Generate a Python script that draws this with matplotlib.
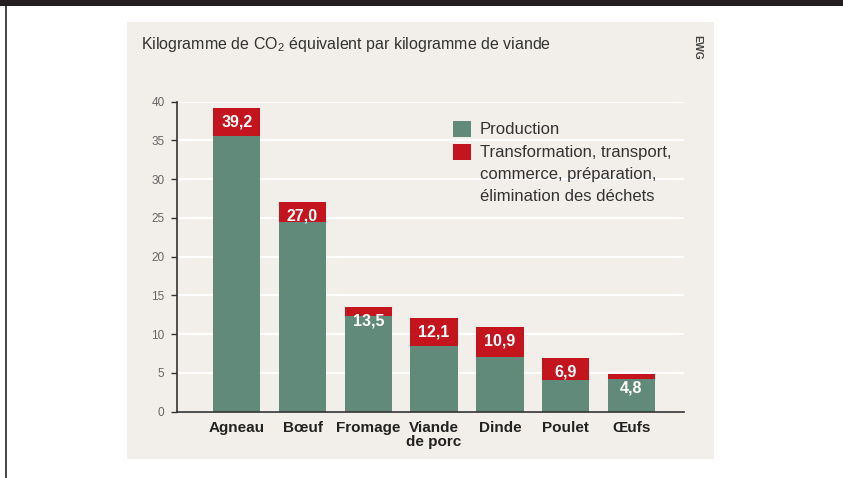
import matplotlib
matplotlib.use("Agg")
import matplotlib.pyplot as plt
from matplotlib.patches import Rectangle

categories = ["Agneau", "Bœuf", "Fromage", "Viande\nde porc", "Dinde", "Poulet", "Œufs"]
production = [35.6, 24.5, 12.3, 8.5, 7.0, 4.1, 4.2]
transformation = [3.6, 2.5, 1.2, 3.6, 3.9, 2.8, 0.6]
total_labels = ["39,2", "27,0", "13,5", "12,1", "10,9", "6,9", "4,8"]
yticks = [0, 5, 10, 15, 20, 25, 30, 35, 40]

GREEN = "#628a7b"
RED = "#c4151f"
PANEL = "#f2efea"
W, H = 843, 478

plt.rcParams['font.family'] = ['Liberation Sans', 'DejaVu Sans']
plt.rcParams['mathtext.fontset'] = 'custom'
plt.rcParams['mathtext.rm'] = 'Liberation Sans'
plt.rcParams['mathtext.it'] = 'Liberation Sans:italic'
plt.rcParams['mathtext.bf'] = 'Liberation Sans:bold'

fig = plt.figure(figsize=(W / 100, H / 100), dpi=100)
fig.patch.set_facecolor("white")

def fx(x):
    return x / W

def fy(y):
    return 1 - y / H

# page decorations
fig.patches.append(Rectangle((0, fy(6)), 1, 6 / H, transform=fig.transFigure,
                             facecolor="#231f20", edgecolor="none", zorder=-2))
fig.patches.append(Rectangle((fx(5), 0), 2 / W, fy(6), transform=fig.transFigure,
                             facecolor="#4a4a4a", edgecolor="none", zorder=-2))
fig.patches.append(Rectangle((fx(127), fy(459)), (714 - 127) / W, (459 - 22) / H,
                             transform=fig.transFigure, facecolor=PANEL,
                             edgecolor="none", zorder=-2))

ax = fig.add_axes([fx(177), fy(411.7), (684 - 177) / W, (411.7 - 101.7) / H])
ax.set_facecolor("none")
ax.set_zorder(1)

x = list(range(len(categories)))
bw = 0.72
ax.bar(x, production, width=bw, color=GREEN, zorder=3)
ax.bar(x, transformation, width=bw, bottom=production, color=RED, zorder=3)

for xi, p, t, lab in zip(x, production, transformation, total_labels):
    ax.annotate(lab, (xi, p + t), xytext=(0, -10), textcoords="offset points",
                ha="center", va="center", color="white", fontsize=11.5,
                fontweight="bold", zorder=4)

ax.set_xlim(-0.908, 6.8)
ax.set_ylim(0, 40)
ax.set_yticks(yticks)
ax.set_xticks(x)
ax.set_xticklabels(categories, fontsize=11, fontweight="bold", color="#222222",
                   linespacing=1.0)
ax.tick_params(axis="x", length=0, pad=7)
ax.tick_params(axis="y", length=4, width=1, color="#333333", labelcolor="#666666",
               labelsize=8.5, pad=5)
ax.yaxis.grid(True, color="white", linewidth=1.6, zorder=1)
ax.set_axisbelow(True)
for s in ["top", "right"]:
    ax.spines[s].set_visible(False)
for s in ["left", "bottom"]:
    ax.spines[s].set_color("#333333")
    ax.spines[s].set_linewidth(1.2)
    ax.spines[s].set_zorder(5)

# title
fig.text(fx(141), fy(44), "Kilogramme de CO$_2$ équivalent par kilogramme de viande",
         fontsize=11.5, color="#333333", ha="left", va="center")
fig.text(fx(697), fy(47), "EWG", fontsize=7.5, fontweight="bold", color="#444444",
         rotation=-90, ha="center", va="center")

# legend (manual)
legend_items = [(GREEN, "Production", 129),
                (RED, "Transformation, transport,\ncommerce, préparation,\nélimination des déchets", 152)]
for col, lab, yc in legend_items:
    fig.patches.append(Rectangle((fx(453), fy(yc + 8)), 18 / W, 16 / H,
                                 transform=fig.transFigure, facecolor=col,
                                 edgecolor="none", zorder=2))
    fig.text(fx(480), fy(yc - 7), lab, fontsize=12, color="#333333", ha="left", va="top",
             linespacing=1.58)

fig.savefig("out.png", dpi=100, facecolor=fig.get_facecolor())
